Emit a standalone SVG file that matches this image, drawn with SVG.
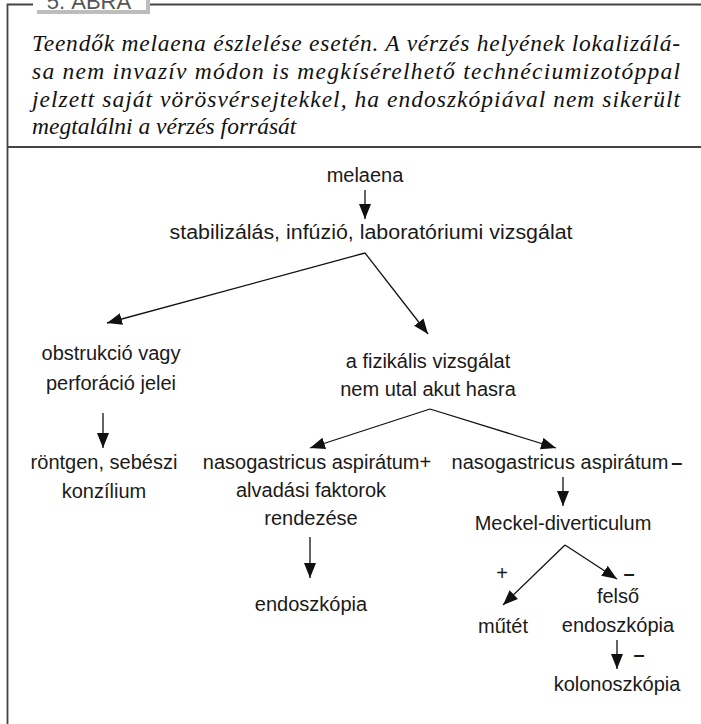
<svg xmlns="http://www.w3.org/2000/svg" width="701" height="724" viewBox="0 0 701 724">
<style>
.frame{stroke:#444;stroke-width:1.8;fill:none}
.cap{font-family:"Liberation Serif",serif;font-style:italic;font-size:23.5px;fill:#111}
.lbl{font-family:"Liberation Sans",sans-serif;font-size:20px;fill:#1a1a1a;text-anchor:middle}
.sign{font-family:"Liberation Sans",sans-serif;font-size:20px;font-weight:bold;fill:#1a1a1a;text-anchor:middle}
.con{stroke:#111;stroke-width:1.3;fill:none;marker-end:url(#ah)}
</style>
<defs>
<marker id="ah" markerUnits="userSpaceOnUse" markerWidth="16" markerHeight="13" refX="15" refY="6.5" orient="auto">
<path d="M0,0.5 L15,6.5 L0,12.5 z" fill="#111"/>
</marker>
</defs>
<rect width="701" height="724" fill="#fff"/>
<g id="frame">
<path class="frame" d="M7.5,724 V4.5 H34 M146,4.5 H701"/>
<path class="frame" d="M7.5,147 H701"/>
<rect x="37" y="-6" width="113" height="20" fill="#bdbdbd"/>
<rect x="33" y="-10" width="113" height="20" fill="#fff"/>
<text x="89" y="9" font-family="Liberation Sans,sans-serif" font-size="22" fill="#555" text-anchor="middle">5. ÁBRA</text>
</g>
<g id="caption">
<text class="cap" x="32" y="51" textLength="648" lengthAdjust="spacing">Teendők melaena észlelése esetén. A vérzés helyének lokalizálá-</text>
<text class="cap" x="32" y="79" textLength="648" lengthAdjust="spacing">sa nem invazív módon is megkísérelhető technéciumizotóppal</text>
<text class="cap" x="32" y="107" textLength="648" lengthAdjust="spacing">jelzett saját vörösvérsejtekkel, ha endoszkópiával nem sikerült</text>
<text class="cap" x="32" y="134">megtalálni a vérzés forrását</text>
</g>
<g id="connectors">
<path class="con" d="M365,190 L365,219"/>
<path class="con" d="M365,253 L107,323"/>
<path class="con" d="M365,253 L428,334"/>
<path class="con" d="M103,413 L103,448"/>
<path class="con" d="M430,409 L310,448"/>
<path class="con" d="M430,409 L556,448"/>
<path class="con" d="M563,477 L563,506"/>
<path class="con" d="M310,537 L310,578"/>
<path class="con" d="M565,545 L503,605"/>
<path class="con" d="M565,545 L617,579"/>
<path class="con" d="M617,640 L617,669"/>
</g>
<g id="n-melaena"><text class="lbl" x="365" y="182">melaena</text></g>
<g id="n-stab"><text class="lbl" x="371" y="239" textLength="403" lengthAdjust="spacingAndGlyphs">stabilizálás, infúzió, laboratóriumi vizsgálat</text></g>
<g id="n-obstr"><text class="lbl" x="111" y="360">obstrukció vagy</text><text class="lbl" x="111" y="390">perforáció jelei</text></g>
<g id="n-fizik"><text class="lbl" x="428" y="368">a fizikális vizsgálat</text><text class="lbl" x="428" y="396">nem utal akut hasra</text></g>
<g id="n-rontgen"><text class="lbl" x="104" y="469">röntgen, sebészi</text><text class="lbl" x="104" y="498">konzílium</text></g>
<g id="n-nasoplus"><text class="lbl" x="317" y="469">nasogastricus aspirátum+</text><text class="lbl" x="311" y="497">alvadási faktorok</text><text class="lbl" x="311" y="525">rendezése</text></g>
<g id="n-nasominus"><text class="lbl" x="567" y="469">nasogastricus aspirátum<tspan font-weight="bold" dx="3">–</tspan></text></g>
<g id="n-meckel"><text class="lbl" x="563" y="530">Meckel-diverticulum</text></g>
<g id="n-endo1"><text class="lbl" x="311" y="611">endoszkópia</text></g>
<g id="n-mutet"><text class="lbl" x="503" y="633">műtét</text></g>
<g id="n-felso"><text class="lbl" x="618" y="603">felső</text><text class="lbl" x="618" y="632">endoszkópia</text></g>
<g id="n-kolono"><text class="lbl" x="617" y="691">kolonoszkópia</text></g>
<g id="labels">
<text class="lbl" x="502" y="580">+</text>
<text class="sign" x="629" y="580">–</text>
<text class="sign" x="639" y="661">–</text>
</g>
</svg>
